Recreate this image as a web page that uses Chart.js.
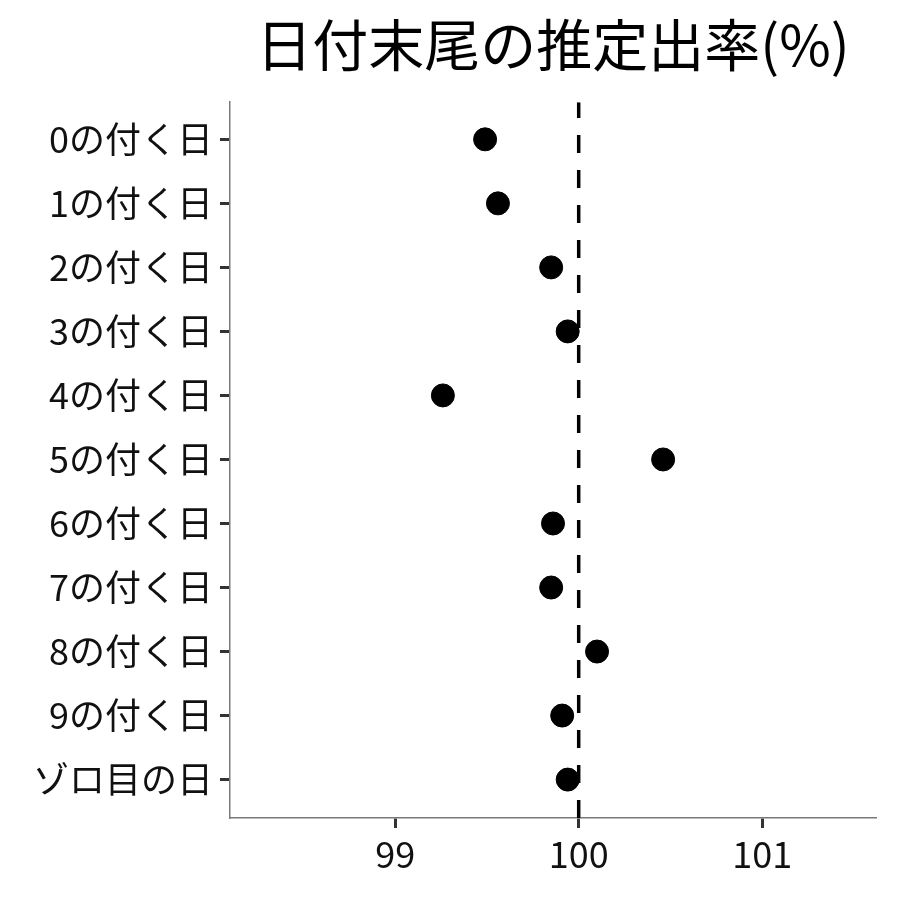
<!DOCTYPE html>
<html>
<head>
<meta charset="utf-8">
<script src="https://cdn.jsdelivr.net/npm/chart.js@4"></script>
<style>
  html, body { margin: 0; padding: 0; background: #fff; }
  #wrap { width: 900px; height: 900px; }
</style>
</head>
<body>
<div id="wrap"><canvas id="rateChart" width="900" height="900"></canvas></div>
<script>
// categories, top to bottom
const dayLabels = ['0の付く日', '1の付く日', '2の付く日', '3の付く日', '4の付く日',
  '5の付く日', '6の付く日', '7の付く日', '8の付く日', '9の付く日', 'ゾロ目の日'];
// estimated payout rate (%)
const payoutRates = [99.49, 99.56, 99.85, 99.94, 99.26, 100.46, 99.86, 99.85, 100.10, 99.91, 99.94];
const xTicks = [99, 100, 101];
const referenceRate = 100;

const fontFamily = '"Noto Sans CJK JP", "Noto Sans", sans-serif';
const yMin = -0.58;
const yMax = 10.6;

const ctx = document.getElementById('rateChart');

new Chart(ctx, {
  type: 'scatter',
  data: {
    datasets: [
      {
        data: payoutRates.map((v, i) => ({ x: v, y: i })),
        backgroundColor: '#000',
        borderColor: '#000',
        pointRadius: 11.5,
        pointHoverRadius: 11.5,
        order: 1
      },
      {
        // dashed reference line at 100
        type: 'line',
        data: [{ x: referenceRate, y: yMax }, { x: referenceRate, y: yMin }],
        borderColor: '#000',
        borderWidth: 3.5,
        borderDash: [18, 17],
        pointRadius: 0,
        fill: false,
        order: 2
      }
    ]
  },
  options: {
    responsive: false,
    animation: false,
    layout: { padding: { left: 0, right: 24, top: 0, bottom: 0 } },
    plugins: {
      legend: { display: false },
      tooltip: { enabled: false },
      title: {
        display: true,
        text: '日付末尾の推定出率(%)',
        fullSize: false,
        color: '#000',
        font: { family: fontFamily, size: 56, weight: 'normal' },
        padding: { top: 11, bottom: 24 }
      }
    },
    scales: {
      x: {
        type: 'linear',
        min: 98.1,
        max: 101.62,
        afterBuildTicks: scale => { scale.ticks = xTicks.map(v => ({ value: v })); },
        afterFit: scale => { scale.height = 82; },
        border: { color: '#7a7a7a', width: 1.5 },
        grid: { drawOnChartArea: false, tickLength: 10, tickWidth: 3, tickColor: '#333' },
        ticks: {
          color: '#111',
          padding: 5,
          font: { family: fontFamily, size: 36 }
        }
      },
      y: {
        type: 'linear',
        reverse: true,
        min: yMin,
        max: yMax,
        afterBuildTicks: scale => { scale.ticks = dayLabels.map((_, i) => ({ value: i })); },
        afterFit: scale => { scale.width = 230; },
        border: { color: '#7a7a7a', width: 1.5 },
        grid: { drawOnChartArea: false, tickLength: 10, tickWidth: 3, tickColor: '#333' },
        ticks: {
          color: '#111',
          padding: 7,
          font: { family: fontFamily, size: 36 },
          callback: v => dayLabels[v]
        }
      }
    }
  }
});
</script>
</body>
</html>
